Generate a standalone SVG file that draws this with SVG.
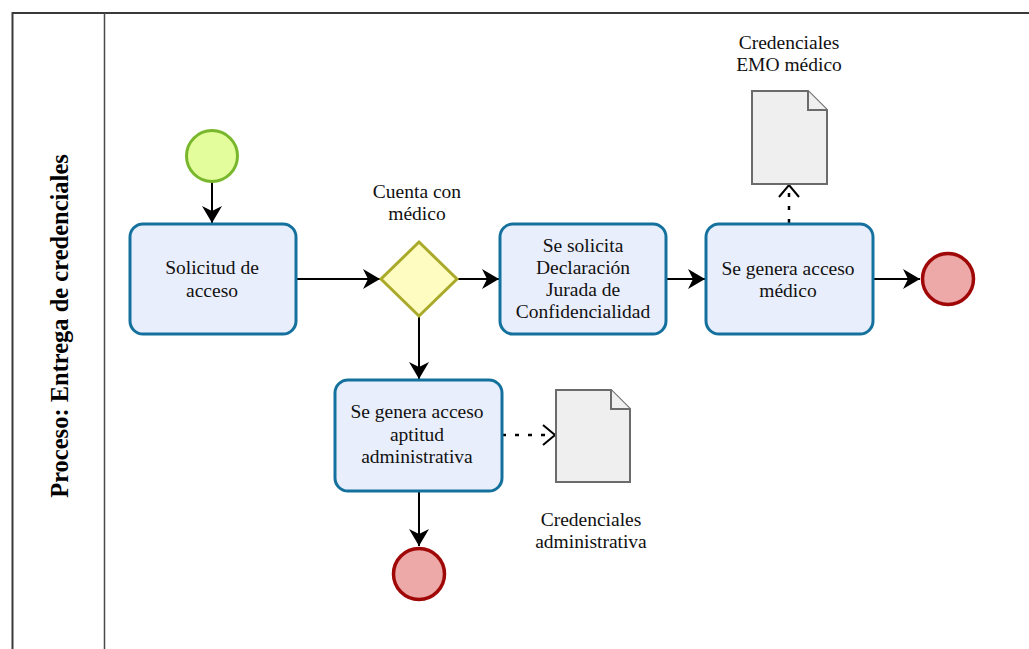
<svg xmlns="http://www.w3.org/2000/svg" width="1029" height="649" viewBox="0 0 1029 649">
<style>
  .task { fill: #e9eefc; stroke: #14719d; stroke-width: 3; }
  .start { fill: #e4fd9c; stroke: #78b72b; stroke-width: 3; }
  .end { fill: #eda8a8; stroke: #a00808; stroke-width: 3.5; }
  .gw { fill: #fffcc2; stroke: #a9a92a; stroke-width: 3; }
  .doc { fill: #efefef; stroke: #6b6b6b; stroke-width: 2; }
  .flow { fill: none; stroke: #000; stroke-width: 2; }
  .assoc { fill: none; stroke: #000; stroke-width: 2.5; stroke-dasharray: 4 9; }
  .lbl { font-family: "Liberation Serif", "Times New Roman", serif; font-size: 19.5px; fill: #111; text-anchor: middle; }
  .title { font-family: "Liberation Serif", "Times New Roman", serif; font-size: 24.5px; font-weight: bold; fill: #000; text-anchor: middle; }
  .frame { fill: none; stroke: #3a3a3a; stroke-width: 2; }
</style>
<defs>
  <marker id="arr" markerUnits="userSpaceOnUse" viewBox="-18 -11 19 22" refX="0" refY="0" markerWidth="19" markerHeight="22" orient="auto">
    <path d="M-17,-10 L0,0 L-17,10 L-12,0 Z" fill="#000"/>
  </marker>
  <marker id="open" markerUnits="userSpaceOnUse" viewBox="-14 -12 16 24" refX="0" refY="0" markerWidth="16" markerHeight="24" orient="auto">
    <path d="M-12,-10 L0,0 L-12,10" fill="none" stroke="#000" stroke-width="2"/>
  </marker>
</defs>
<rect width="1029" height="649" fill="#fff"/>
<g id="pool">
  <path class="frame" d="M12.5,660 L12.5,13 L1040,13"/>
  <line x1="104.5" y1="13" x2="104.5" y2="660" stroke="#4a4a4a" stroke-width="1.5"/>
  <text class="title" transform="translate(68,326) rotate(-90)">Proceso: Entrega de credenciales</text>
</g>
<g id="connectors">
  <line class="flow" x1="212" y1="182" x2="212" y2="223" marker-end="url(#arr)"/>
  <line class="flow" x1="296" y1="279" x2="380" y2="279" marker-end="url(#arr)"/>
  <line class="flow" x1="457" y1="279" x2="499" y2="279" marker-end="url(#arr)"/>
  <line class="flow" x1="666" y1="279" x2="705" y2="279" marker-end="url(#arr)"/>
  <line class="flow" x1="873" y1="279" x2="920" y2="279" marker-end="url(#arr)"/>
  <line class="flow" x1="419" y1="317" x2="419" y2="379" marker-end="url(#arr)"/>
  <line class="flow" x1="419" y1="491" x2="419" y2="546" marker-end="url(#arr)"/>
  <line class="assoc" x1="789" y1="223" x2="789" y2="185" marker-end="url(#open)"/>
  <line class="assoc" x1="502" y1="435" x2="555" y2="435" marker-end="url(#open)"/>
</g>
<g id="start">
  <circle class="start" cx="212" cy="156" r="25.5"/>
</g>
<g id="task-solicitud">
  <rect class="task" x="130" y="224" width="166" height="110" rx="13"/>
  <text class="lbl" x="212" y="274">Solicitud de</text>
  <text class="lbl" x="212" y="297">acceso</text>
</g>
<g id="gateway">
  <polygon class="gw" points="419,242 457,279 419,316 381,279"/>
  <text class="lbl" x="417" y="198">Cuenta con</text>
  <text class="lbl" x="417" y="220">médico</text>
</g>
<g id="task-declaracion">
  <rect class="task" x="500" y="224" width="166" height="110" rx="13"/>
  <text class="lbl" x="583" y="252">Se solicita</text>
  <text class="lbl" x="583" y="274">Declaración</text>
  <text class="lbl" x="583" y="296">Jurada de</text>
  <text class="lbl" x="583" y="318">Confidencialidad</text>
</g>
<g id="task-medico">
  <rect class="task" x="706" y="224" width="167" height="110" rx="13"/>
  <text class="lbl" x="788" y="275">Se genera acceso</text>
  <text class="lbl" x="788" y="297">médico</text>
</g>
<g id="end-right">
  <circle class="end" cx="948" cy="279" r="25.5"/>
</g>
<g id="doc-emo">
  <path class="doc" d="M752,91 L808,91 L827,110 L827,184 L752,184 Z"/>
  <path class="doc" d="M808,91 L808,110 L827,110"/>
  <text class="lbl" x="789" y="49">Credenciales</text>
  <text class="lbl" x="789" y="71">EMO médico</text>
</g>
<g id="task-administrativa">
  <rect class="task" x="335" y="380" width="167" height="111" rx="13"/>
  <text class="lbl" x="417" y="418">Se genera acceso</text>
  <text class="lbl" x="417" y="441">aptitud</text>
  <text class="lbl" x="417" y="463">administrativa</text>
</g>
<g id="doc-admin">
  <path class="doc" d="M556,390 L611,390 L630,409 L630,482 L556,482 Z"/>
  <path class="doc" d="M611,390 L611,409 L630,409"/>
  <text class="lbl" x="591" y="526">Credenciales</text>
  <text class="lbl" x="591" y="548">administrativa</text>
</g>
<g id="end-bottom">
  <circle class="end" cx="419" cy="574" r="25.5"/>
</g>
</svg>
